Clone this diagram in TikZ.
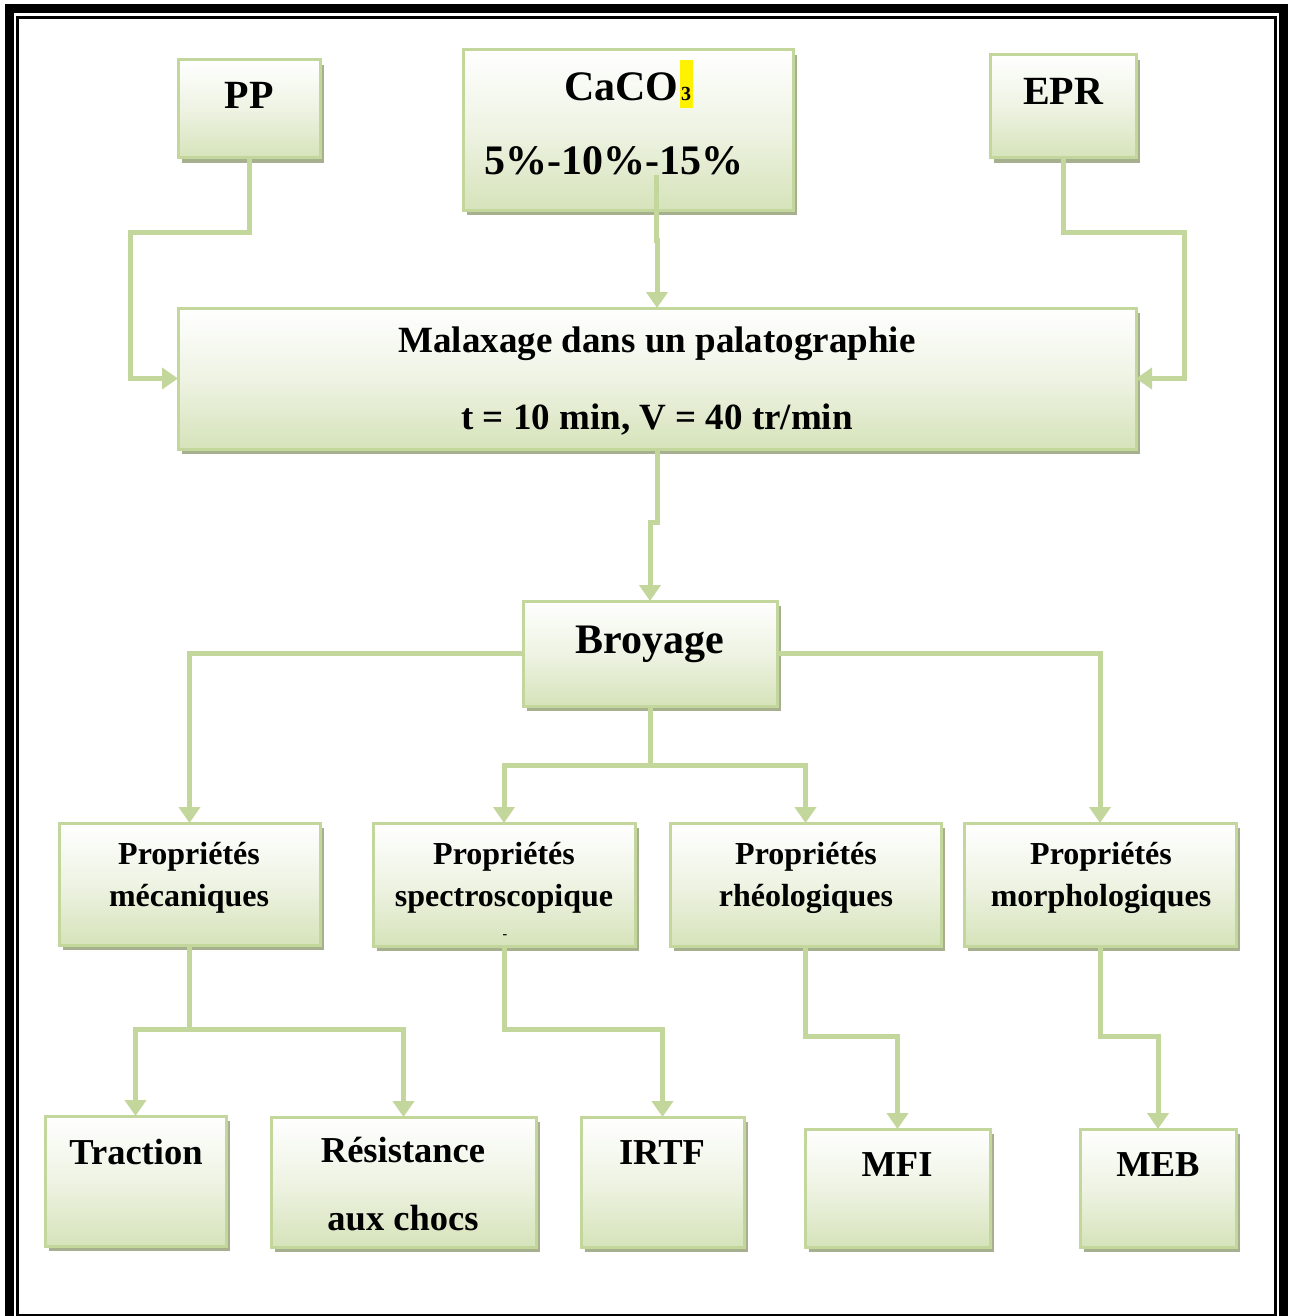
\documentclass[tikz,border=0pt]{standalone}
\usepackage{fontspec}
\setmainfont{Liberation Serif}
\usetikzlibrary{arrows.meta,shadows,calc}
\definecolor{gborder}{HTML}{C3D69B}
\definecolor{gbot}{HTML}{D6E3BA}
\definecolor{gmid}{HTML}{EEF3E3}
\definecolor{gshadow}{HTML}{A6B08F}
\tikzset{
  gbox/.style={draw=gborder, line width=3pt, top color=white, bottom color=gbot, middle color=gmid,
    inner sep=0pt, outer sep=0pt, anchor=north west,
    drop shadow={shadow xshift=4pt, shadow yshift=-5pt, fill=gshadow, opacity=1}},
  conn/.style={draw=gborder, line width=5pt, -{Triangle[width=21pt,length=16pt]}},
  lbl/.style={anchor=base, inner sep=0pt, font=\bfseries},
}
\begin{document}
\begin{tikzpicture}[x=1pt,y=-1pt]
\useasboundingbox (0,0) rectangle (1294,1316);
\clip (0,0) rectangle (1294,1316);
% frame
\draw[line width=9pt] (9,9) rectangle (1283.5,1345);
\draw[line width=2.5pt] (17.5,17.5) rectangle (1275.5,1315);

% boxes
\node[gbox, minimum width=142pt, minimum height=98pt] (pp) at (178,60) {};
\node[gbox, minimum width=330pt, minimum height=160pt] (caco) at (463,50) {};
\node[gbox, minimum width=146pt, minimum height=103pt] (epr) at (990,55) {};
\node[gbox, minimum width=958pt, minimum height=141pt] (mal) at (178,308) {};
\node[gbox, minimum width=254pt, minimum height=105pt] (broy) at (523,601) {};
\node[gbox, minimum width=261pt, minimum height=122pt] (meca) at (59,823) {};
\node[gbox, minimum width=262pt, minimum height=123pt] (spec) at (373,823) {};
\node[gbox, minimum width=271pt, minimum height=123pt] (rheo) at (670,823) {};
\node[gbox, minimum width=272pt, minimum height=123pt] (morph) at (964,823) {};
\node[gbox, minimum width=181pt, minimum height=130pt] (trac) at (45,1116) {};
\node[gbox, minimum width=265pt, minimum height=130pt] (resi) at (271,1117) {};
\node[gbox, minimum width=163pt, minimum height=130pt] (irtf) at (581,1117) {};
\node[gbox, minimum width=185pt, minimum height=118pt] (mfi) at (805,1129) {};
\node[gbox, minimum width=156pt, minimum height=118pt] (meb) at (1080,1129) {};

% connectors
\draw[conn] (pp.south) -- ++(0,74) -- (130,232) |- (mal.west);
\draw[conn] (epr.south) -- ++(0,74) -- (1184,232) |- (mal.east);
\draw[conn] ($(caco.south -| mal.north)+(-1,-35)$) -- ($(caco.south -| mal.north)+(-1,30)$) -- ($(caco.south -| mal.north)+(0,30)$) -- (mal.north);
\draw[conn] (mal.south) -- ++(0,73) -| (broy.north);
\draw[conn] (broy.west) -| (meca.north);
\draw[conn] (broy.east) -| (morph.north);
\draw[conn] (broy.south) -- ++(0,59) -| (spec.north);
\draw[conn] (broy.south) -- ++(0,59) -| (rheo.north);
\draw[conn] (meca.south) -- ++(0,84) -| (trac.north);
\draw[conn] (meca.south) -- ++(0,84) -| (resi.north);
\draw[conn] (spec.south) -- ++(0,83) -| (irtf.north);
\draw[conn] (rheo.south) -- ++(0,90) -| (mfi.north);
\draw[conn] (morph.south) -- ++(0,90) -| (meb.north);

% texts
\node[lbl, font=\bfseries\fontsize{40}{48}\selectfont] (tpp) at (249,109) {PP};
\node[lbl, font=\bfseries\fontsize{40}{48}\selectfont] (tepr) at (1063,105) {EPR};
\fill[yellow] (680,60) rectangle (693,108);
\node[lbl, anchor=base west, font=\bfseries\fontsize{42}{50}\selectfont] (tcaco) at (564,101) {CaCO};
\node[lbl, font=\bfseries\fontsize{20}{24}\selectfont] (tthree) at (686,101) {3};
\node[lbl, anchor=base west, font=\bfseries\fontsize{42}{50}\selectfont] (tpct) at (484,175) {5\%-10\%-15\%};
\node[lbl, font=\bfseries\fontsize{37}{44}\selectfont] (tmal1) at (657,352) {Malaxage dans un palatographie};
\node[lbl, font=\bfseries\fontsize{37}{44}\selectfont] (tmal2) at (657,429) {t = 10 min, V = 40 tr/min};
\node[lbl, font=\bfseries\fontsize{42}{50}\selectfont] (tbroy) at (650,653) {Broyage};
\node[lbl, font=\bfseries\fontsize{32}{38}\selectfont] (tm1) at (189,864) {Propriétés};
\node[lbl, font=\bfseries\fontsize{32}{38}\selectfont] (tm2) at (189,906) {mécaniques};
\node[lbl, font=\bfseries\fontsize{32}{38}\selectfont] (ts1) at (504,864) {Propriétés};
\node[lbl, font=\bfseries\fontsize{32}{38}\selectfont] (ts2) at (504,906) {spectroscopique};
\node[lbl, font=\bfseries\fontsize{14}{16}\selectfont] (ts3) at (505,938) {-};
\node[lbl, font=\bfseries\fontsize{32}{38}\selectfont] (tr1) at (806,864) {Propriétés};
\node[lbl, font=\bfseries\fontsize{32}{38}\selectfont] (tr2) at (806,906) {rhéologiques};
\node[lbl, font=\bfseries\fontsize{32}{38}\selectfont] (to1) at (1101,864) {Propriétés};
\node[lbl, font=\bfseries\fontsize{32}{38}\selectfont] (to2) at (1101,906) {morphologiques};
\node[lbl, font=\bfseries\fontsize{36.5}{44}\selectfont] (ttr) at (136,1164) {Traction};
\node[lbl, font=\bfseries\fontsize{36.5}{44}\selectfont] (tre1) at (403,1162) {Résistance};
\node[lbl, font=\bfseries\fontsize{36.5}{44}\selectfont] (tre2) at (403,1230) {aux chocs};
\node[lbl, font=\bfseries\fontsize{36.5}{44}\selectfont] (tir) at (662,1164) {IRTF};
\node[lbl, font=\bfseries\fontsize{36.5}{44}\selectfont] (tmfi) at (897,1176) {MFI};
\node[lbl, font=\bfseries\fontsize{36.5}{44}\selectfont] (tmeb) at (1158,1176) {MEB};
\end{tikzpicture}
\end{document}
